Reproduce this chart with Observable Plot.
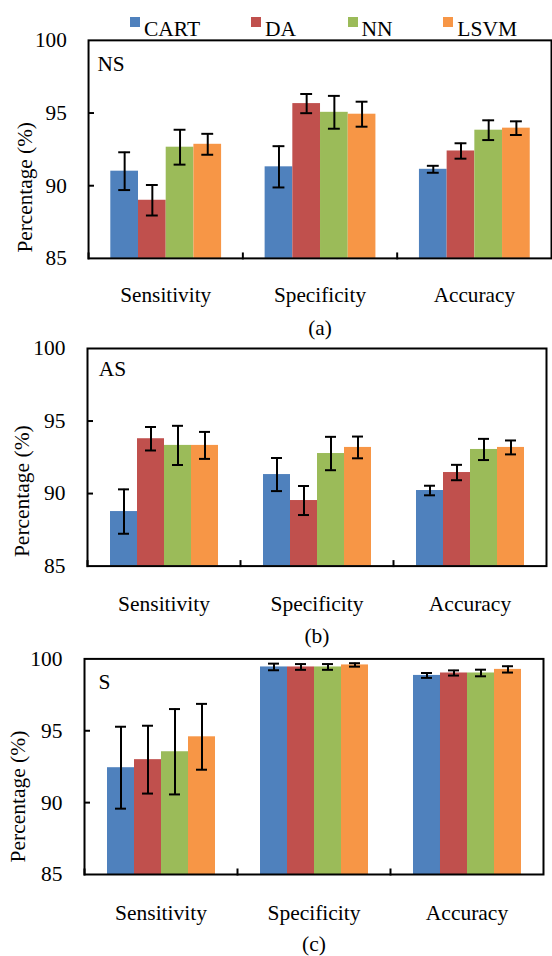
<!DOCTYPE html>
<html>
<head>
<meta charset="utf-8">
<script src="https://cdn.jsdelivr.net/npm/d3@7"></script>
<script src="https://cdn.jsdelivr.net/npm/@observablehq/plot@0.6"></script>
<style>
  html, body { margin: 0; padding: 0; background: #fff; overflow: hidden; }
  #root { position: relative; width: 552px; height: 956px; overflow: hidden; font-family: "Liberation Serif", serif; }
  #root svg { display: block; font-family: "Liberation Serif", serif !important; font-size: 21.5px !important; }
  #root svg text, #root svg g { font-family: "Liberation Serif", serif !important; }
  #legend { position: absolute; left: 0; top: 0; width: 552px; height: 36px; z-index: 2; }
  .lg-sw { position: absolute; width: 10px; height: 10px; top: 16.5px; }
  .lg-tx { position: absolute; top: 29px; font-size: 21.5px; line-height: 0; color: #000; white-space: nowrap; }
</style>
</head>
<body>
<div id="root"><div id="legend"></div><div id="charts"></div></div>
<script>
// ---- data ----
const metrics = ["Sensitivity", "Specificity", "Accuracy"];
const models = ["CART", "DA", "NN", "LSVM"];
const yTicks = [85, 90, 95, 100];
const panelTags = ["NS", "AS", "S"];
const captions = ["(a)", "(b)", "(c)"];
const yTitle = "Percentage (%)";

// values listed metric by metric, models CART, DA, NN, LSVM within each metric
const nsMean = [91.0, 89.0, 92.65, 92.85,  91.3, 95.65, 95.05, 94.92,  91.13, 92.39, 93.82, 93.96];
const nsErr  = [1.3, 1.05, 1.2, 0.72,      1.42, 0.66, 1.13, 0.86,     0.24, 0.53, 0.68, 0.47];
const asMean = [88.76, 93.78, 93.32, 93.32,  91.31, 89.52, 92.76, 93.18,  90.21, 91.45, 93.04, 93.18];
const asErr  = [1.53, 0.81, 1.35, 0.93,      1.14, 1.0, 1.15, 0.75,       0.33, 0.53, 0.73, 0.48];
const sMean  = [92.43, 92.99, 93.54, 94.58,  99.44, 99.44, 99.44, 99.58,  98.85, 99.02, 99.02, 99.27];
const sErr   = [2.85, 2.36, 2.97, 2.29,      0.23, 0.2, 0.2, 0.12,        0.17, 0.18, 0.23, 0.22];

// ---- styles / layout ----
const font = "Liberation Serif";
const colors = ["#4F81BD", "#C0504D", "#9BBB59", "#F79646"];
const legendX = [130, 251, 347.5, 443.3];
const layout = [
  {width: 558, marginLeft: 88.5, marginRight: 0.2, marginTop: 40.3, plotH: 220.4, marginBottom: 80, tagDx: 9, tagDy: 15.5, titleDx: -72.5, titleDy: -6, tickPad: 28.5},
  {width: 552, marginLeft: 86, marginRight: 4.3, marginTop: 11, plotH: 217.6, marginBottom: 80, tagDx: 11.3, tagDy: 12, titleDx: -73.7, titleDy: -9, tickPad: 29.5},
  {width: 552, marginLeft: 84, marginRight: 8.6, marginTop: 12.4, plotH: 215.6, marginBottom: 78.7, tagDx: 14, tagDy: 15.3, titleDx: -75.2, titleDy: -12, tickPad: 30.5}
];

// legend
const legend = document.getElementById("legend");
models.forEach((m, i) => {
  const sw = document.createElement("div");
  sw.className = "lg-sw"; sw.style.left = legendX[i] + "px"; sw.style.background = colors[i];
  const tx = document.createElement("div");
  tx.className = "lg-tx"; tx.style.left = (legendX[i] + 14) + "px"; tx.textContent = m;
  legend.appendChild(sw); legend.appendChild(tx);
});

const panels = [[nsMean, nsErr], [asMean, asErr], [sMean, sErr]];
const charts = document.getElementById("charts");

panels.forEach(([means, errs], p) => {
  const L = layout[p];
  const data = [];
  metrics.forEach((metric, i) => models.forEach((model, j) => {
    const k = i * models.length + j;
    data.push({metric, model, value: means[k], lo: means[k] - errs[k], hi: means[k] + errs[k]});
  }));
  const first = [{metric: metrics[0]}];
  const txt = {fontFamily: font, fontSize: 21.5, fill: "#000"};
  const chart = Plot.plot({
    width: L.width,
    height: L.marginTop + L.plotH + L.marginBottom,
    marginLeft: L.marginLeft,
    marginRight: L.marginRight,
    marginTop: L.marginTop,
    marginBottom: L.marginBottom,
    style: 'font-family: "Liberation Serif", serif; font-size: 21.5px; color: #000; background: transparent; overflow: visible;',
    fx: {domain: metrics, padding: 0, label: null},
    x: {domain: models, paddingInner: 0, paddingOuter: 0.75, axis: null},
    y: {domain: [yTicks[0], yTicks[yTicks.length - 1]]},
    color: {domain: models, range: colors},
    marks: [
      Plot.barY(data, {fx: "metric", x: "model", y1: () => yTicks[0], y2: "value", fill: "model"}),
      Plot.ruleX(data, {fx: "metric", x: "model", y1: "lo", y2: "hi", stroke: "#000", strokeWidth: 2}),
      Plot.tickY(data, {fx: "metric", x: "model", y: "lo", stroke: "#000", strokeWidth: 2, insetLeft: 8, insetRight: 8}),
      Plot.tickY(data, {fx: "metric", x: "model", y: "hi", stroke: "#000", strokeWidth: 2, insetLeft: 8, insetRight: 8}),
      Plot.axisY({ticks: yTicks, tickSize: 0, tickPadding: 22, label: null, ...txt}),
      Plot.axisY({ticks: yTicks.slice(1, -1), tickSize: 6, dx: 6, tickFormat: () => "", label: null, stroke: "#000", strokeWidth: 2}),
      Plot.axisFx({anchor: "bottom", tickSize: 0, tickPadding: L.tickPad, label: captions[p], labelAnchor: "center", labelOffset: 77, ...txt}),
      Plot.frame({anchor: "left", insetTop: L.plotH - 5, stroke: "#000", strokeWidth: 2}),
      Plot.frame({facet: "super", stroke: "#000", strokeWidth: 2}),
      Plot.text(first, {fx: "metric", text: () => panelTags[p], frameAnchor: "top-left", textAnchor: "start", lineAnchor: "top", dx: L.tagDx, dy: L.tagDy, ...txt}),
      Plot.text(first, {fx: "metric", text: () => yTitle, frameAnchor: "bottom-left", rotate: -90, textAnchor: "start", lineAnchor: "top", dx: L.titleDx, dy: L.titleDy, ...txt})
    ]
  });
  charts.appendChild(chart);
});
</script>
</body>
</html>
